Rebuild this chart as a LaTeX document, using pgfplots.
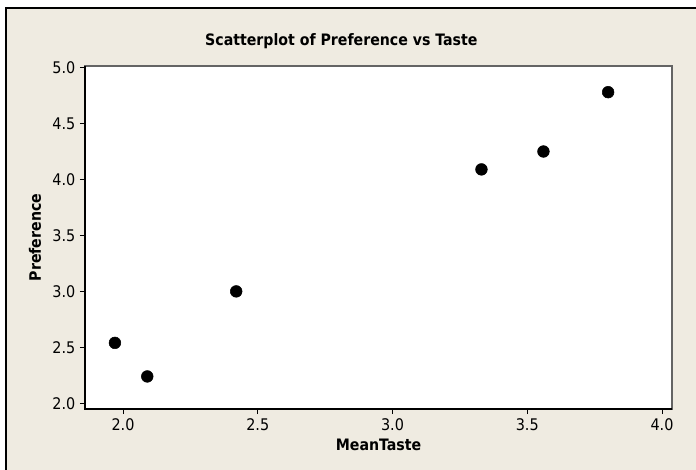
\documentclass[border=0pt]{standalone}
\usepackage{pgfplots}
\pgfplotsset{compat=1.18}
\usepackage{fontspec}
\setmainfont{DejaVu Sans Condensed}
\definecolor{mtbg}{RGB}{239,235,225}
\definecolor{mtframe}{RGB}{100,100,100}
\begin{document}
\begin{tikzpicture}
\useasboundingbox (0,0) rectangle (522pt,-352.5pt);
\fill[white] (0,0) rectangle (522pt,-352.5pt);
\fill[mtbg] (4.5pt,-6pt) rectangle (522pt,-352.5pt);
\draw[black, line width=1.2pt] (4.5pt,-352.5pt) -- (4.5pt,-6pt) -- (522pt,-6pt);
\node[font=\bfseries\fontsize{11.8}{13}\selectfont] at (256pt,-31pt) {Scatterplot of Preference vs Taste};
\begin{axis}[
    at={(63.75pt,-306.75pt)}, anchor=south west,
    scale only axis,
    width=440.25pt, height=257.25pt,
    xmin=1.859, xmax=4.037,
    ymin=1.949, ymax=5.014,
    xtick={2.0,2.5,3.0,3.5,4.0},
    ytick={2.0,2.5,3.0,3.5,4.0,4.5,5.0},
    xtick pos=left, ytick pos=left,
    tick align=outside,
    major tick length=3.75pt,
    tick style={black, line width=0.6pt},
    axis line style={mtframe, line width=0.9pt},
    axis background/.style={fill=white},
    ticklabel style={font=\fontsize{12}{14}\selectfont},
    /pgf/number format/.cd, fixed, fixed zerofill, precision=1, assume math mode=true,
    /pgfplots/.cd,
    xlabel={MeanTaste}, ylabel={Preference},
    label style={font=\bfseries\fontsize{11.8}{13}\selectfont},
    xlabel style={at={(0.5,-0.105)}, anchor=center},
    ylabel style={at={(-0.085,0.5)}, anchor=center},
    clip=false,
]
\draw[black, line width=0.9pt] (rel axis cs:0,1) -- (rel axis cs:0,0) -- (rel axis cs:1,0);
\addplot[only marks, mark=*, mark size=4.4pt, black] coordinates {
    (1.97,2.54) (2.09,2.24) (2.42,3.00) (3.33,4.09) (3.56,4.25) (3.80,4.78)
};
\end{axis}
\end{tikzpicture}
\end{document}
